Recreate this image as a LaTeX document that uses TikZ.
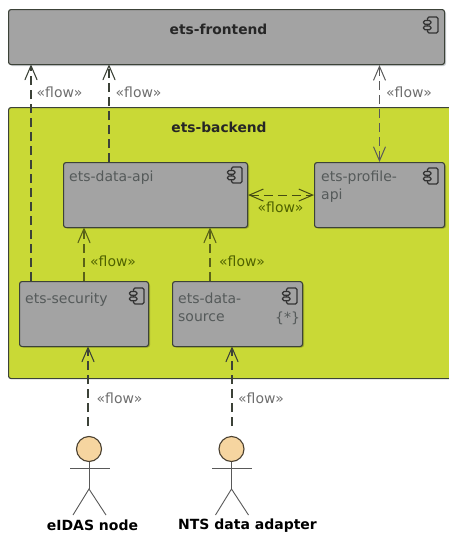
\documentclass[tikz,border=0pt]{standalone}
\usepackage{fontspec}
\setmainfont{DejaVu Sans}
\usetikzlibrary{arrows.meta,calc}
\definecolor{boxgray}{HTML}{A3A3A3}
\definecolor{backgreen}{HTML}{C9D936}
\definecolor{edgegray}{HTML}{3C4238}
\definecolor{labelgray}{HTML}{555A5A}
\definecolor{flowgray}{HTML}{6E6E6E}
\definecolor{flowgreen}{HTML}{4F6200}
\definecolor{headfill}{HTML}{F6D5A0}
\definecolor{headedge}{HTML}{4A4030}
\definecolor{shadowgray}{HTML}{C8CCD0}
\tikzset{
  x=1pt,y=-1pt,
  compbox/.style={draw=edgegray,line width=1.1pt,fill=boxgray,rounded corners=2.5pt,
    minimum width=#1,minimum height=65pt,anchor=north west,inner sep=0pt},
  backbox/.style={draw=edgegray,line width=1.1pt,fill=backgreen,rounded corners=2.5pt,
    minimum width=460pt,minimum height=271pt,anchor=north west,inner sep=0pt},
  complabel/.style={font=\fontsize{14}{18}\selectfont,text=labelgray,align=left,anchor=north west,inner sep=0pt},
  titlelabel/.style={font=\fontsize{13.8}{16}\selectfont\bfseries,text=black!85,inner sep=0pt},
  flowwhite/.style={font=\fontsize{14}{16}\selectfont,text=flowgray,inner sep=0pt},
  flowgrn/.style={font=\fontsize{14}{16}\selectfont,text=flowgreen,inner sep=0pt},
  flowline/.style={line width=1.3pt,draw=edgegray,dash pattern=on 9pt off 5pt,
    -{Straight Barb[length=14pt,width=12pt,line width=1.1pt,round]}},
  flowthin/.style={flowline,line width=.8pt,draw=black!65,
    {Straight Barb[length=14pt,width=12pt,line width=1pt]}-{Straight Barb[length=14pt,width=12pt,line width=1pt]}},
  flowmid/.style={flowline,draw=black!55!backgreen,line width=1.1pt},
  headcircle/.style={circle,draw=headedge,line width=1.1pt,fill=headfill,minimum size=25pt,inner sep=0pt},
  actorlimb/.style={draw=black!65,line width=.9pt},
  actorname/.style={font=\fontsize{14}{16}\selectfont\bfseries,text=black,inner sep=0pt},
  iconline/.style={draw=black!80,line width=1.2pt,fill=boxgray},
  comp/.pic={
    \draw[iconline,rounded corners=1.5pt] (-3.5,-8) -- (7,-8) -- (7,8) -- (-3.5,8) -- cycle;
    \draw[iconline,rounded corners=1.5pt] (-7.5,-4.5) rectangle (0,-.8);
    \draw[iconline,rounded corners=1.5pt] (-7.5,1) rectangle (0,4.7);
  }
}
\begin{document}
\begin{tikzpicture}
\useasboundingbox (0,0) rectangle (449,533);
\fill[white] (0,0) rectangle (449,533);
% shadows
\fill[shadowgray,rounded corners=2.5pt] (10,11) rectangle (446,66);
% backend frame
\node[backbox] (back) at (8,107) {};
\node[titlelabel] (backt) at (219,127) {ets-backend};
\foreach \x/\y/\w in {63/162/184,314/162/130,19/281/129,172/281/130}
  \fill[black!22!backgreen,rounded corners=2.5pt] (\x+2,\y+2) rectangle (\x+\w+2,\y+66.5);
% boxes
\node[compbox=436pt,minimum height=55pt] (front) at (8,9) {};
\node[compbox=184pt] (api) at (63,162) {};
\node[compbox=130pt] (prof) at (314,162) {};
\node[compbox=129pt] (sec) at (19,281) {};
\node[compbox=130pt] (src) at (172,281) {};
\node[titlelabel] (frontt) at (218.5,29) {ets-frontend};
\node[complabel] (apit) at (69,171) {ets-data-api};
\node[complabel] (proft) at (321,171) {ets-profile-\\api};
\node[complabel] (sect) at (25,293) {ets-security};
\node[complabel] (srct) at (178,293) {ets-data-\\source};
\node[font=\fontsize{14}{16}\selectfont,text=labelgray,inner sep=0pt] (star) at (287.5,318) {\{*\}};
\pic at (431,25) {comp};
\pic at (235,175) {comp};
\pic at (431,176) {comp};
\pic at (137,296) {comp};
\pic at (290,296) {comp};
% actors
\node[headcircle] (h1) at (89,449) {};
\node[headcircle] (h2) at (231.5,449) {};
\coordinate (n1) at (89,489);
\coordinate (n2) at (231.5,489);
\draw[actorlimb] (70,468.5) -- (110,468.5);
\draw[actorlimb] (212,468.5) -- (252,468.5);
\draw[actorlimb] (h1) -- (n1);
\draw[actorlimb] (h2) -- (n2);
\draw[actorlimb] (73,515) -- (n1) -- (106,515);
\draw[actorlimb] (215.5,515) -- (n2) -- (248.5,515);
\node[actorname] (a1) at (92.5,525.5) {eIDAS node};
\node[actorname] (a2) at (247.5,525.5) {NTS data adapter};
% connectors
\draw[flowline] ([xshift=12pt]sec.north west) -- ([xshift=23pt]front.south west);
\draw[flowline] ([xshift=46pt]api.north west) -- ([xshift=101pt]front.south west);
\draw[flowthin] ([xshift=65.5pt]prof.north west) -- ([xshift=371.5pt]front.south west);
\draw[flowthin,draw=black!65!backgreen] (api.east) -- (prof.west);
\draw[flowmid] ([xshift=65pt]sec.north west) -- ([xshift=21pt]api.south west);
\draw[flowmid] ([xshift=38pt]src.north west) -- ([xshift=147pt]api.south west);
\coordinate (s1) at (88,426);
\coordinate (s2) at (232,426);
\draw[flowline] (s1) -- (sec.south -| s1);
\draw[flowline] (s2) -- (src.south -| s2);
% labels
\node[flowwhite] at (59.5,92) {«flow»};
\node[flowwhite] at (138.5,92) {«flow»};
\node[flowwhite] at (409,92) {«flow»};
\node[flowgrn] at (280.5,207) {«flow»};
\node[flowgrn] at (113,261) {«flow»};
\node[flowgrn] at (242,261) {«flow»};
\node[flowwhite] at (119.5,398) {«flow»};
\node[flowwhite] at (261,398) {«flow»};
\end{tikzpicture}
\end{document}
